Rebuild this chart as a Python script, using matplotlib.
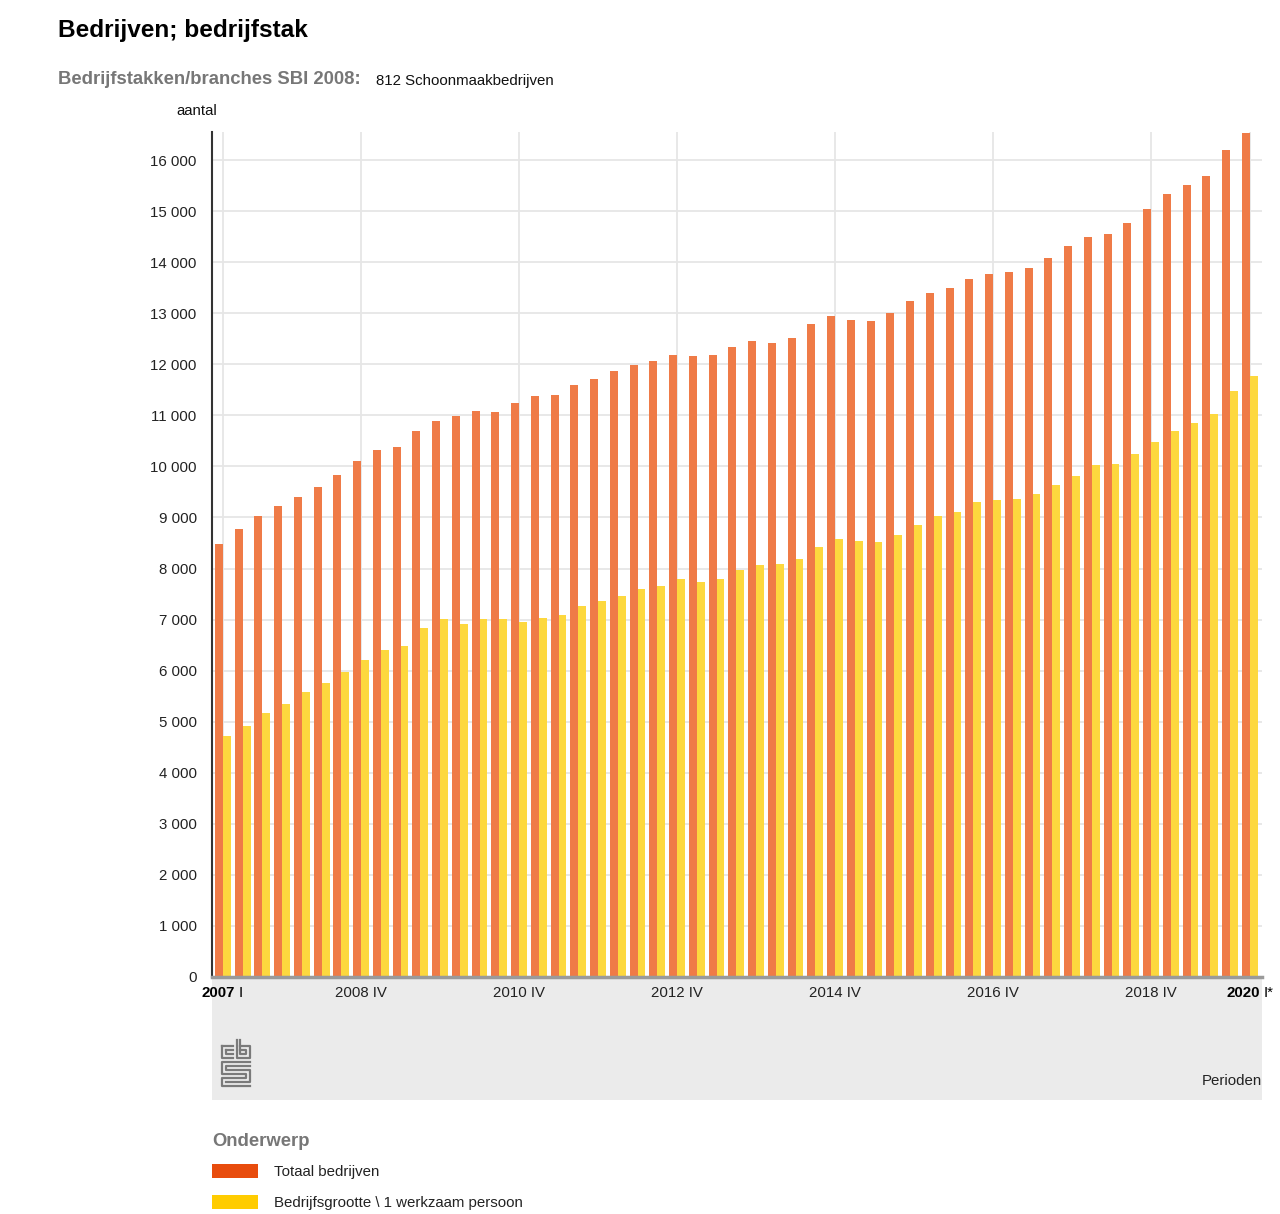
import numpy as np
import matplotlib.pyplot as plt
from matplotlib.patches import Rectangle
from matplotlib.lines import Line2D

plt.rcParams['font.family'] = ['Liberation Sans', 'DejaVu Sans']

# perioden: 2007 I t/m 2020 I (kwartalen)
jaren = list(range(2007, 2021))
kwartalen = ["I", "II", "III", "IV"]
perioden = [f"{j} {k}" for j in jaren for k in kwartalen][:53]

# Totaal bedrijven
totaal = [8490, 8770, 9030, 9220, 9410, 9600, 9830, 10110, 10320, 10390,
          10690, 10890, 10990, 11090, 11060, 11240, 11370, 11400, 11590, 11710,
          11870, 11980, 12060, 12190, 12160, 12190, 12330, 12450, 12420, 12510,
          12780, 12950, 12860, 12840, 13000, 13240, 13390, 13490, 13680, 13770,
          13800, 13880, 14080, 14320, 14490, 14550, 14760, 15050, 15330, 15520,
          15690, 16200, 16540]
# Bedrijfsgrootte \ 1 werkzaam persoon
een_persoon = [4720, 4920, 5180, 5350, 5580, 5760, 5970, 6210, 6400, 6480,
               6840, 7010, 6910, 7010, 7020, 6950, 7040, 7090, 7270, 7360,
               7460, 7600, 7660, 7790, 7740, 7790, 7970, 8070, 8090, 8190,
               8430, 8580, 8530, 8520, 8660, 8860, 9020, 9110, 9300, 9340,
               9370, 9460, 9640, 9820, 10020, 10050, 10240, 10470, 10690, 10850,
               11030, 11480, 11780]

yticks = list(range(0, 17000, 1000))
xtick_idx = [0, 7, 15, 23, 31, 39, 47, 52]

W, H = 1280, 1214
def fx(x):
    return x / W
def fy(y):
    return 1 - y / H

fs = 10.8

fig = plt.figure(figsize=(12.8, 12.14), dpi=100)
ax = fig.add_axes([fx(212), fy(977), (1262 - 212) / W, (977 - 132) / H])

x = np.arange(len(perioden))
ax.bar(x - 0.2, totaal, width=0.4, color='#EF7B47', zorder=3)
ax.bar(x + 0.2, een_persoon, width=0.4, color='#FDD83E', zorder=3)

ax.set_xlim(-0.55, 52.62)
ax.set_ylim(0, 16550)
ax.set_yticks(yticks)
ax.set_yticklabels([f"{v:,}".replace(",", " ") for v in yticks], fontsize=fs, color='#222222')
ax.tick_params(axis='y', length=0, pad=11)
ax.set_xticks(xtick_idx)
ax.set_xticklabels([])
ax.tick_params(axis='x', length=0)
ax.grid(True, color='#E6E6E6', linewidth=1.3, zorder=0)
ax.set_axisbelow(True)

for s in ['top', 'right']:
    ax.spines[s].set_visible(False)
ax.spines['left'].set_color('#333333')
ax.spines['left'].set_linewidth(1.5)
ax.spines['bottom'].set_color('#9A9A9A')
ax.spines['bottom'].set_linewidth(2.5)
ax.spines['bottom'].set_zorder(4)

# x labels
for i in xtick_idx[1:-1]:
    ax.annotate(perioden[i], xy=(i, 0), xycoords=('data', 'axes fraction'),
                xytext=(0, -9), textcoords='offset pixels', ha='center', va='top',
                fontsize=fs, color='#222222')
for i, dx, suffix in [(0, 12, "I"), (52, 10, "I*")]:
    ax.annotate(perioden[i].split()[0], xy=(i, 0), xycoords=('data', 'axes fraction'),
                xytext=(dx, -9), textcoords='offset pixels', ha='right', va='top',
                fontsize=fs, fontweight='bold', color='#000000')
    ax.annotate(suffix, xy=(i, 0), xycoords=('data', 'axes fraction'),
                xytext=(dx + 4, -9), textcoords='offset pixels', ha='left', va='top',
                fontsize=fs, color='#000000')

# grijze band onder de grafiek
fig.add_artist(Rectangle((fx(212), fy(1100)), (1262 - 212) / W, (1100 - 979) / H,
                         transform=fig.transFigure, facecolor='#EBEBEB',
                         edgecolor='none', zorder=0))

# cbs logo (vereenvoudigd)
logo = [
    [(222, 1046), (222, 1058), (233, 1058)],
    [(222, 1046), (233, 1046)],
    [(226, 1050), (233, 1050)],
    [(226, 1050), (226, 1054), (233, 1054)],
    [(237, 1040), (237, 1058), (250, 1058), (250, 1046), (240, 1046)],
    [(240, 1040), (240, 1054), (246, 1054), (246, 1050), (240, 1050)],
    [(250, 1062), (222, 1062), (222, 1074), (246, 1074), (246, 1078), (222, 1078), (222, 1086), (250, 1086)],
    [(250, 1066), (226, 1066), (226, 1070), (250, 1070), (250, 1082), (226, 1082)],
]
for pts in logo:
    xs = [fx(p[0]) for p in pts]
    ys = [fy(p[1]) for p in pts]
    fig.add_artist(Line2D(xs, ys, transform=fig.transFigure, color='#7A7A7A', linewidth=1.6))

fig.text(fx(1262), fy(1081), "Perioden", ha='right', va='center', fontsize=fs, color='#222222')

# titels
fig.text(fx(58), fy(31), "Bedrijven; bedrijfstak", ha='left', va='center',
         fontsize=17.6, fontweight='bold', color='#000000')
fig.text(fx(58), fy(79), "Bedrijfstakken/branches SBI 2008:", ha='left', va='center',
         fontsize=13.3, fontweight='bold', color='#777777')
fig.text(fx(376), fy(81), "812 Schoonmaakbedrijven", ha='left', va='center',
         fontsize=fs, color='#111111')
fig.text(fx(176), fy(111), "aantal", ha='left', va='center', fontsize=fs, color='#111111')

# legenda
fig.text(fx(212), fy(1141), "Onderwerp", ha='left', va='center',
         fontsize=13.3, fontweight='bold', color='#777777')
fig.add_artist(Rectangle((fx(212), fy(1178)), 46 / W, 14 / H, transform=fig.transFigure,
                         facecolor='#E84C0D', edgecolor='none'))
fig.add_artist(Rectangle((fx(212), fy(1209)), 46 / W, 14 / H, transform=fig.transFigure,
                         facecolor='#FFCC00', edgecolor='none'))
fig.text(fx(274), fy(1172), "Totaal bedrijven", ha='left', va='center', fontsize=fs, color='#222222')
fig.text(fx(274), fy(1203), "Bedrijfsgrootte \\ 1 werkzaam persoon", ha='left', va='center',
         fontsize=fs, color='#222222')

fig.savefig("out.png", dpi=100)
